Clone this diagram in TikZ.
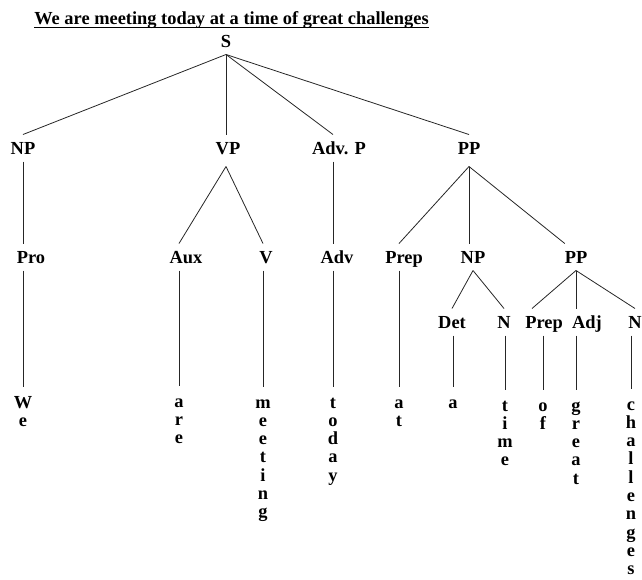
\documentclass[tikz,border=0pt]{standalone}
\usepackage{fontspec}
\setmainfont{Liberation Serif}
\makeatletter
% stack the letters of a word in a centred vertical column
\newcommand\vword[1]{\vtop{\baselineskip=18.3pt\lineskiplimit=-50pt\lineskip=0pt%
  \@tfor\vw@l:=#1\do{\hbox to 0pt{\hss\vw@l\hss}}}}
\makeatother
\tikzset{
  treefont/.style={font=\fontsize{18.4}{20}\selectfont\bfseries},
  cat/.style={treefont, inner sep=0pt, outer xsep=0pt, outer ysep=7.5pt,
              text height=12pt, text depth=0pt, anchor=base},
  wrd/.style={treefont, inner sep=0pt, outer xsep=0pt, outer ysep=9pt,
              text height=12pt, anchor=base},
  ttl/.style={treefont, inner sep=0pt, anchor=base},
  br/.style={line width=0.8pt, black!85},
}
\begin{document}
\begin{tikzpicture}[x=1pt, y=-1pt]
\useasboundingbox (0,0) rectangle (642,579);

% heading
\node[ttl] (title) at (231.5,24) {We are meeting today at a time of great challenges};
\draw[line width=1.3pt] ([yshift=-3.5pt]title.base west) -- ([yshift=-3.5pt]title.base east);

% category labels
\node[cat] (S)    at (226,47)  {S};
\node[cat] (NP)   at (23,154)  {NP};
\node[cat] (VP)   at (228,154) {VP};
\node[cat] (AdvP) at (339,154) {Adv. P};
\node[cat] (PP)   at (469,154) {PP};
\node[cat] (Pro)  at (31,263)  {Pro};
\node[cat] (Aux)  at (186,263) {Aux};
\node[cat] (V)    at (266,263) {V};
\node[cat] (Adv)  at (337,263) {Adv};
\node[cat] (Prep) at (404,263) {Prep};
\node[cat] (NPb)  at (473,263) {NP};
\node[cat] (PPb)  at (576,263) {PP};
\node[cat] (Det)  at (452,328) {Det};
\node[cat] (N)    at (504,328) {N};
\node[cat] (Prepb) at (544,328) {Prep};
\node[cat] (Adj)  at (587,328) {Adj};
\node[cat] (Nb)   at (635,328) {N};

% words, written downwards
\node[wrd] (we)    at (23,408)  {\vword{We}};
\node[wrd] (are)   at (179,407) {\vword{are}};
\node[wrd] (meet)  at (263,408) {\vword{meeting}};
\node[wrd] (today) at (333,408) {\vword{today}};
\node[wrd] (at)    at (399,408) {\vword{at}};
\node[wrd] (a)     at (453,408) {\vword{a}};
\node[wrd] (time)  at (505,411) {\vword{time}};
\node[wrd] (of)    at (543,411) {\vword{of}};
\node[wrd] (great) at (576,411) {\vword{great}};
\node[wrd] (chal)  at (631,410) {\vword{challenges}};

% S
\draw[br] (S.south) -- (NP.north);
\draw[br] (S.south) -- (S.south |- VP.north);
\draw[br] (S.south) -- (AdvP.north -| today);
\draw[br] (S.south) -- (PP.north);
% NP
\draw[br] (NP.south) -- (NP.south |- Pro.north);
% VP
\draw[br] ([yshift=-5pt]VP.south -| S) -- (Aux.north -| are);
\draw[br] ([yshift=-5pt]VP.south -| S) -- (V.north -| meet);
% Adv. P
\draw[br] (AdvP.south -| today) -- (Adv.north -| today);
% PP
\draw[br] ([yshift=-5pt]PP.south) -- (Prep.north -| at);
\draw[br] ([yshift=-5pt]PP.south) -- (PP.south |- NPb.north);
\draw[br] ([yshift=-5pt]PP.south) -- (PPb.north west);
% lower NP and PP
\draw[br] (NPb.south) -- (Det.north);
\draw[br] (NPb.south) -- (N.north);
\draw[br] (PPb.south) -- ([xshift=-12pt]Prepb.north);
\draw[br] (PPb.south) -- (PPb.south |- Adj.north);
\draw[br] (PPb.south) -- (Nb.north);
% lines down to the words
\draw[br] (Pro.south -| we) -- (we.north);
\draw[br] (Aux.south -| are) -- (are.north);
\draw[br] (V.south -| meet) -- (meet.north);
\draw[br] (Adv.south -| today) -- (today.north);
\draw[br] (Prep.south -| at) -- (at.north);
\draw[br] (Det.south -| a) -- (a.north);
\draw[br] (N.south -| time) -- (time.north);
\draw[br] (Prepb.south -| of) -- (of.north);
\draw[br] (Adj.south -| great) -- (great.north);
\draw[br] (Nb.south -| chal) -- (chal.north);
\end{tikzpicture}
\end{document}
